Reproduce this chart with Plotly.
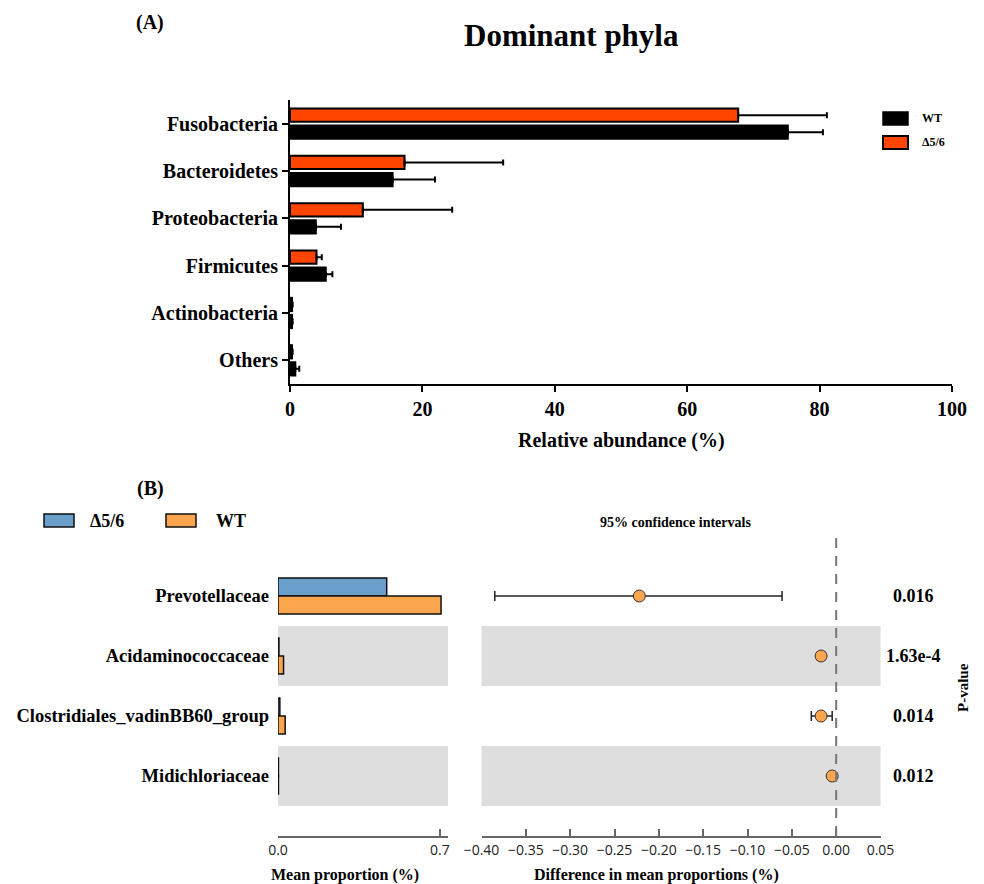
import plotly.graph_objects as go

# ---------------- data ----------------
# (A) dominant phyla, relative abundance (%)
phyla = ["Fusobacteria", "Bacteroidetes", "Proteobacteria", "Firmicutes", "Actinobacteria", "Others"]
d56_abund = [67.7, 17.3, 11.0, 4.0, 0.3, 0.3]
d56_abund_err = [13.4, 14.9, 13.5, 0.8, 0.1, 0.1]
wt_abund = [75.2, 15.5, 3.9, 5.4, 0.3, 0.8]
wt_abund_err = [5.3, 6.4, 3.8, 1.0, 0.1, 0.6]
abund_ticks = [0, 20, 40, 60, 80, 100]

# (B) differentially abundant families
families = ["Prevotellaceae", "Acidaminococcaceae", "Clostridiales_vadinBB60_group", "Midichloriaceae"]
d56_prop = [0.47, 0.004, 0.008, 0.002]
wt_prop = [0.705, 0.024, 0.031, 0.002]
diff_mean = [-0.222, -0.017, -0.017, -0.0045]
ci_low = [-0.385, -0.021, -0.028, -0.007]
ci_high = [-0.061, -0.013, -0.0045, -0.002]
p_values = ["0.016", "1.63e-4", "0.014", "0.012"]
prop_ticks = [0.0, 0.7]
diff_ticks = [-0.40, -0.35, -0.30, -0.25, -0.20, -0.15, -0.10, -0.05, 0.00, 0.05]

# ---------------- style ----------------
W, H = 984, 884
SERIF = "Liberation Serif, Times New Roman, serif"
SANS = "Open Sans, DejaVu Sans, sans-serif"
RED = "#FF4500"
BLACK = "#000000"
BLUE = "#6A9FCB"
ORANGE = "#FBA54F"
BAND = "#DEDEDE"
AXGRAY = "#666666"


def fx(px):
    return px / W


def fy(py):
    return 1 - py / H


fig = go.Figure()

# ---------------- panel A ----------------
fig.add_trace(go.Bar(
    y=phyla, x=d56_abund, orientation="h", name="Δ5/6",
    marker=dict(color=RED, line=dict(color=BLACK, width=2)),
    width=0.28, offset=-0.32,
    error_x=dict(type="data", symmetric=False, array=d56_abund_err,
                 arrayminus=[0] * len(phyla), color=BLACK, thickness=2, width=3),
    xaxis="x", yaxis="y", showlegend=False,
))
fig.add_trace(go.Bar(
    y=phyla, x=wt_abund, orientation="h", name="WT",
    marker=dict(color=BLACK, line=dict(color=BLACK, width=2)),
    width=0.28, offset=0.04,
    error_x=dict(type="data", symmetric=False, array=wt_abund_err,
                 arrayminus=[0] * len(phyla), color=BLACK, thickness=2, width=3),
    xaxis="x", yaxis="y", showlegend=False,
))

# ---------------- panel B, mean proportions ----------------
fig.add_trace(go.Bar(
    y=families, x=d56_prop, orientation="h", name="Δ5/6",
    marker=dict(color=BLUE, line=dict(color="#111111", width=1.5)),
    width=0.3, offset=-0.3,
    xaxis="x2", yaxis="y2", showlegend=False,
))
fig.add_trace(go.Bar(
    y=families, x=wt_prop, orientation="h", name="WT",
    marker=dict(color=ORANGE, line=dict(color="#111111", width=1.5)),
    width=0.3, offset=0.0,
    xaxis="x2", yaxis="y2", showlegend=False,
))

# ---------------- panel B, difference with 95% CI ----------------
fig.add_trace(go.Scatter(
    y=families, x=diff_mean, mode="markers",
    marker=dict(size=12, color=ORANGE, line=dict(color="#333333", width=1)),
    error_x=dict(type="data", symmetric=False,
                 array=[h - m for h, m in zip(ci_high, diff_mean)],
                 arrayminus=[m - l for m, l in zip(diff_mean, ci_low)],
                 color="#222222", thickness=1.5, width=5),
    xaxis="x3", yaxis="y3", showlegend=False,
))

# alternating grey bands behind rows 2 and 4 of panel B
shapes = []
for i, fam in enumerate(families):
    if i % 2 == 1:
        for xr, yr in (("x2 domain", "y2"), ("x3 domain", "y3")):
            shapes.append(dict(type="rect", xref=xr, yref=yr, x0=0, x1=1,
                               y0=i - 0.5, y1=i + 0.5, fillcolor=BAND,
                               line=dict(width=0), layer="below"))

# zero line of the difference axis
shapes.append(dict(type="line", xref="x3", yref="y3 domain", x0=0, x1=0, y0=0, y1=1,
                   line=dict(color="#777777", width=2, dash="10px,8px"), layer="above"))

# legend swatches
shapes += [
    dict(type="rect", xref="paper", yref="paper", x0=fx(883), x1=fx(908), y0=fy(125), y1=fy(112),
         fillcolor=BLACK, line=dict(color=BLACK, width=1.5)),
    dict(type="rect", xref="paper", yref="paper", x0=fx(883), x1=fx(908), y0=fy(149), y1=fy(136),
         fillcolor=RED, line=dict(color=BLACK, width=2)),
    dict(type="rect", xref="paper", yref="paper", x0=fx(44), x1=fx(74), y0=fy(527), y1=fy(514),
         fillcolor=BLUE, line=dict(color="#111111", width=1.5)),
    dict(type="rect", xref="paper", yref="paper", x0=fx(166), x1=fx(196), y0=fy(527), y1=fy(514),
         fillcolor=ORANGE, line=dict(color="#111111", width=1.5)),
]

annotations = []


def text(x, y, s, size, xanchor="center", angle=0, family=SERIF):
    annotations.append(dict(xref="paper", yref="paper", x=fx(x), y=fy(y), text=s,
                            showarrow=False, xanchor=xanchor, yanchor="middle",
                            textangle=angle,
                            font=dict(family=family, size=size, color="#000000", weight="bold")))


text(150, 22, "(A)", 20)
text(571, 36, "Dominant phyla", 31)
text(621, 440, "Relative abundance (%)", 20)
text(920, 118, "WT", 12, xanchor="left")
text(920, 142, "Δ5/6", 12, xanchor="left")

text(150, 488, "(B)", 20)
text(88, 521, "Δ5/6", 18, xanchor="left")
text(214, 521, "WT", 18, xanchor="left")
text(675, 522, "95% confidence intervals", 14)
text(345, 875, "Mean proportion (%)", 16)
text(656, 875, "Difference in mean proportions (%)", 16)
text(963, 688, "P-value", 15, angle=-90)

# p-values beside each row
for fam, p in zip(families, p_values):
    annotations.append(dict(xref="paper", yref="y3", x=fx(913), y=fam, text=p,
                            showarrow=False, xanchor="center", yanchor="middle",
                            font=dict(family=SERIF, size=18, color="#000000", weight="bold")))


def bold_serif(size):
    return dict(family=SERIF, size=size, color=BLACK, weight="bold")


fig.update_layout(
    width=W, height=H, margin=dict(l=0, r=0, t=0, b=0, autoexpand=False),
    paper_bgcolor="white", plot_bgcolor="white",
    barmode="overlay", showlegend=False,
    shapes=shapes, annotations=annotations,
    xaxis=dict(domain=[fx(290), fx(952)], anchor="y", range=[0, 100], automargin=False,
               tickvals=abund_ticks, showline=True, linecolor=BLACK, linewidth=2,
               ticks="outside", ticklen=6, tickwidth=2, tickcolor=BLACK,
               showgrid=False, zeroline=False, tickfont=bold_serif(20)),
    yaxis=dict(domain=[fy(384), fy(100)], anchor="x", type="category", automargin=False,
               categoryorder="array", categoryarray=phyla, range=[5.5, -0.5],
               showline=True, linecolor=BLACK, linewidth=2,
               ticks="outside", ticklen=6, tickwidth=2, tickcolor=BLACK,
               showgrid=False, zeroline=False, tickfont=bold_serif(20)),
    xaxis2=dict(domain=[fx(278), fx(448)], anchor="y2", range=[0, 0.735], automargin=False,
                tickvals=prop_ticks, ticktext=["0.0", "0.7"],
                showline=True, linecolor=AXGRAY, linewidth=1.5,
                ticks="inside", ticklen=7, tickwidth=1.5, tickcolor=AXGRAY,
                showgrid=False, zeroline=False,
                tickfont=dict(family=SANS, size=14, color="#222222")),
    yaxis2=dict(domain=[fy(836), fy(536)], anchor="x2", type="category", automargin=False,
                categoryorder="array", categoryarray=families, range=[3.5 + 0.5, -1],
                showline=False, ticks="", showgrid=False, zeroline=False,
                ticklabelstandoff=8, tickfont=bold_serif(18.5)),
    xaxis3=dict(domain=[fx(481.5), fx(880.5)], anchor="y3", range=[-0.40, 0.05], automargin=False,
                tickvals=diff_ticks, tickformat=".2f",
                showline=True, linecolor=AXGRAY, linewidth=1.5,
                ticks="inside", ticklen=7, tickwidth=1.5, tickcolor=AXGRAY,
                showgrid=False, zeroline=False,
                tickfont=dict(family=SANS, size=14, color="#222222")),
    yaxis3=dict(domain=[fy(836), fy(536)], anchor="x3", type="category", automargin=False,
                categoryorder="array", categoryarray=families, range=[3.5 + 0.5, -1],
                showline=False, ticks="", showticklabels=False,
                showgrid=False, zeroline=False),
)

fig.write_html("out.html")
